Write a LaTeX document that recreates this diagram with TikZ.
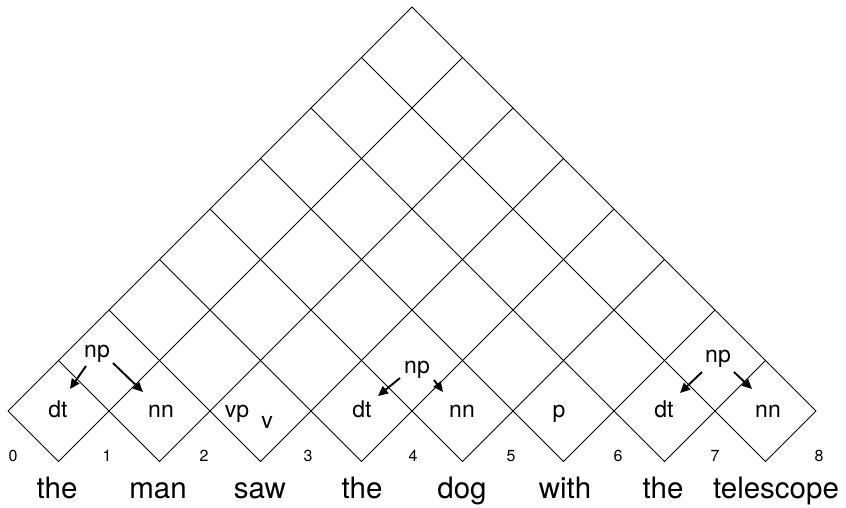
\documentclass[tikz,border=0pt]{standalone}
\usepackage{fontspec}
\setmainfont{TeX Gyre Heros}
\usetikzlibrary{arrows.meta}
\begin{document}
\begin{tikzpicture}[x=1pt,y=-1pt,
  gridline/.style={line width=0.85pt},
  lab/.style={anchor=base,inner sep=0pt,font=\fontsize{23}{25}\selectfont},
  num/.style={anchor=base,inner sep=0pt,font=\fontsize{16}{18}\selectfont},
  word/.style={anchor=base,inner sep=0pt,font=\fontsize{29.5}{32}\selectfont},
  ptr/.style={line width=1.9pt,-{Triangle[length=10pt,width=9pt]}}]
\path[use as bounding box] (0,0) rectangle (846,507);
% chart corners
\coordinate (apex) at (412,7);
\coordinate (L) at (8,411);
\coordinate (R) at (816,411);
\foreach \i in {0,...,7}{
  \coordinate (b\i) at ({8+50.5*(2*\i+1)},461.5);
  \coordinate (r\i) at ({8+50.5*(9+\i)},{411-50.5*(7-\i)});
  \coordinate (l\i) at ({8+50.5*\i},{411-50.5*\i});
}
\draw[gridline] (L) -- (apex) -- (R);
\foreach \i in {0,...,7}{\draw[gridline] (l\i) -- (b\i) -- (r\i);}
% cell labels
\node[lab] (dt1) at (58,417) {dt};
\node[lab] (nn1) at (161,417) {nn};
\node[lab] (vp) at (237,417) {vp};
\node[lab] (v) at (267,428) {v};
\node[lab] (dt2) at (362,417) {dt};
\node[lab] (nn2) at (462,417) {nn};
\node[lab] (p) at (559,417) {p};
\node[lab] (dt3) at (664,417) {dt};
\node[lab] (nn3) at (768,417) {nn};
\node[lab] (np1) at (97,357.5) {np};
\node[lab] (np2) at (417,373) {np};
\node[lab] (np3) at (718,362) {np};
% positions
\foreach \k/\x in {0/13,1/107,2/204,3/308,4/413,5/511,6/618,7/715,8/819}
  \node[num] (n\k) at (\x,461) {\k};
% words
\node[word] (w1) at (57,498) {the};
\node[word] (w2) at (158,498) {man};
\node[word] (w3) at (260,498) {saw};
\node[word] (w4) at (362,498) {the};
\node[word] (w5) at (462,498) {dog};
\node[word] (w6) at (565,498) {with};
\node[word] (w7) at (663,498) {the};
\node[word] (w8) at (776,498) {telescope};
% back-pointers
\coordinate (s1) at (86,366);  \coordinate (e1) at (70,389);
\coordinate (s2) at (113,363); \coordinate (e2) at (143,392);
\coordinate (s3) at (400,378); \coordinate (e3) at (378,396);
\coordinate (s4) at (434,380); \coordinate (e4) at (443,392);
\coordinate (s5) at (702,372); \coordinate (e5) at (680,393);
\coordinate (s6) at (734,372); \coordinate (e6) at (752,389);
\foreach \j in {1,...,6}{\draw[ptr] (s\j) -- (e\j);}
\end{tikzpicture}
\end{document}
